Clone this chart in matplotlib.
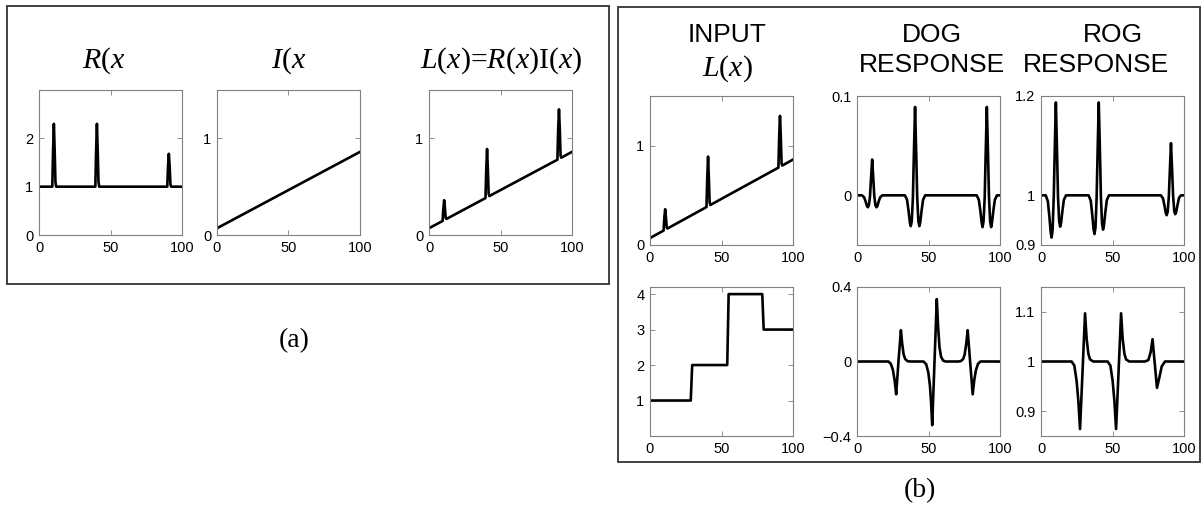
"""
Retinex-style illustration: reflectance x illumination, and the DOG / ROG
responses of two test inputs.  Two boxed panels, (a) and (b).
"""

import matplotlib
matplotlib.use("Agg")
import matplotlib.pyplot as plt
from matplotlib.patches import Rectangle

# ---------------------------------------------------------------------------
# Data
# ---------------------------------------------------------------------------

# (a) reflectance R(x): flat at 1 with three narrow spikes
r_x = [0, 9.3, 9.8, 10.4, 11.0, 11.5, 12.0, 39.4, 39.9, 40.5, 41.1, 41.6, 42.1,
       89.7, 90.2, 90.8, 91.4, 91.9, 92.4, 100]
r_y = [1, 1, 1.7, 2.3, 1.7, 1.1, 1, 1, 1.7, 2.3, 1.7, 1.1, 1,
       1, 1.4, 1.68, 1.4, 1.05, 1, 1]

# (a) illumination I(x): a ramp
i_x = [0, 100]
i_y = [0.07, 0.86]

# L(x) = R(x) I(x)  (also the first input in panel b)
l_x = [0, 9.5, 10.0, 10.6, 11.2, 11.7, 12.2, 39.5, 40.0, 40.6, 41.2, 41.7, 42.2,
       89.8, 90.3, 90.9, 91.5, 92.0, 92.5, 100]
l_y = [0.07, 0.145, 0.27, 0.36, 0.27, 0.175, 0.166, 0.382, 0.66, 0.89, 0.66, 0.43, 0.403,
       0.779, 1.08, 1.30, 1.08, 0.82, 0.800, 0.86]

# (b) DOG response to L(x)
dog1_x = [0,
          3.5, 5.0, 6.0, 7.0, 7.6, 8.3, 9.1, 9.8, 10.6, 11.4, 12.1, 12.9, 13.6, 14.2, 15.2, 16.2, 17.7,
          33.5, 35.0, 36.0, 37.0, 37.6, 38.3, 39.1, 39.8, 40.6, 41.4, 42.1, 42.9, 43.6, 44.2, 45.2, 46.2, 47.7,
          83.7, 85.2, 86.2, 87.2, 87.8, 88.5, 89.3, 90.0, 90.8, 91.6, 92.3, 93.1, 93.8, 94.4, 95.4, 96.4, 97.9,
          100]
dog1_y = [0,
          0, -0.002, -0.006, -0.011, -0.012, -0.010, -0.001, 0.017, 0.036, 0.017, -0.001, -0.010, -0.012,
          -0.011, -0.006, -0.002, 0,
          0, -0.0045, -0.015, -0.0275, -0.031, -0.026, -0.002, 0.043, 0.089, 0.043, -0.002, -0.026, -0.031,
          -0.0275, -0.015, -0.0045, 0,
          0, -0.0045, -0.015, -0.0275, -0.032, -0.026, -0.002, 0.043, 0.089, 0.043, -0.002, -0.026, -0.032,
          -0.0275, -0.015, -0.0045, 0,
          0]

# (b) ROG response to L(x)
rog1_x = [0,
          3.3, 4.8, 5.8, 6.8, 7.4, 8.1, 8.9, 9.6, 10.4, 11.2, 11.9, 12.7, 13.4, 14.0, 15.0, 16.0, 17.5,
          33.3, 34.8, 35.8, 36.8, 37.4, 38.1, 38.9, 39.6, 40.4, 41.2, 41.9, 42.7, 43.4, 44.0, 45.0, 46.0, 47.5,
          83.8, 85.3, 86.3, 87.3, 87.9, 88.6, 89.4, 90.1, 90.9, 91.7, 92.4, 93.2, 93.9, 94.5, 95.5, 96.5, 98.0,
          100]
rog1_y = [1,
          1, 0.988, 0.959, 0.925, 0.915, 0.930, 0.995, 1.09, 1.187, 1.09, 0.996, 0.948, 0.937,
          0.944, 0.969, 0.991, 1,
          1, 0.989, 0.962, 0.931, 0.922, 0.935, 0.995, 1.09, 1.187, 1.09, 0.996, 0.943, 0.931,
          0.939, 0.966, 0.990, 1,
          1, 0.994, 0.980, 0.964, 0.960, 0.967, 0.998, 1.05, 1.105, 1.05, 0.998, 0.968, 0.962,
          0.966, 0.981, 0.995, 1,
          1]

# (b) second input: a staircase
step_x = [0, 28.5, 29.5, 54.0, 55.0, 78.5, 79.5, 100]
step_y = [1, 1, 2, 2, 4, 4, 3, 3]

# (b) DOG response to the staircase
dog2_x = [0, 22.0, 23.7, 25.1, 26.3, 27.4, 29.0, 30.7, 31.6, 32.6, 33.7, 35.3, 37.0,
          46.5, 48.4, 49.9, 51.0, 51.8, 52.6, 54.2, 55.8, 56.7, 57.7, 58.8, 60.2, 62.0,
          71.0, 72.6, 74.2, 75.3, 76.4, 77.4, 79.1, 80.9, 82.0, 83.2, 84.6, 86.3, 100]
dog2_y = [0, 0, -0.013, -0.045, -0.10, -0.176, 0.0, 0.168, 0.096, 0.038, 0.013, 0.002, 0,
          0, -0.015, -0.06, -0.13, -0.22, -0.342, 0.0, 0.335, 0.19, 0.075, 0.025, 0.005, 0,
          0, 0.002, 0.013, 0.038, 0.096, 0.168, 0.0, -0.176, -0.10, -0.045, -0.013, 0, 0]

# (b) ROG response to the staircase
rog2_x = [0, 21.4, 23.3, 24.9, 26.1, 27.3, 29.05, 30.8, 31.9, 33.1, 34.3, 36.6,
          46.6, 48.5, 50.1, 51.3, 52.5, 54.25, 56.0, 57.1, 58.3, 59.5, 61.8,
          72.7, 75.1, 76.7, 78.0, 79.55, 81.1, 82.8, 84.4, 86.7, 100]
rog2_y = [1, 1, 0.992, 0.961, 0.921, 0.864, 0.98, 1.097, 1.046, 1.016, 1.004, 1,
          1, 0.992, 0.961, 0.921, 0.864, 0.98, 1.097, 1.046, 1.016, 1.004, 1,
          1, 1.003, 1.019, 1.045, 0.996, 0.947, 0.968, 0.990, 1, 1]

X_TICKS = [0, 50, 100]

# ---------------------------------------------------------------------------
# Figure setup (pixel layout of a 1201 x 511 image)
# ---------------------------------------------------------------------------
W, H = 1201, 511
plt.rcParams["mathtext.fontset"] = "custom"
plt.rcParams["mathtext.rm"] = "Liberation Serif"
plt.rcParams["mathtext.it"] = "Liberation Serif:italic"

fig = plt.figure(figsize=(W / 100, H / 100), dpi=100)

SANS = "Liberation Sans"
SERIF = "Liberation Serif"
SPINE = "#808080"


def fx(px):
    return px / W


def fy(py):
    return 1 - py / H


def add_panel(left, top, right, bottom, x, y, ylim, yticks, yticklabels=None):
    ax = fig.add_axes([fx(left), fy(bottom), (right - left) / W, (bottom - top) / H])
    ax.plot(x, y, color="black", linewidth=1.9, solid_joinstyle="round")
    ax.set_xlim(0, 100)
    ax.set_ylim(*ylim)
    ax.set_xticks(X_TICKS)
    ax.set_yticks(yticks)
    if yticklabels is not None:
        ax.set_yticklabels(yticklabels)
    for s in ax.spines.values():
        s.set_color(SPINE)
        s.set_linewidth(0.8)
    ax.tick_params(direction="in", length=3.5, width=0.6, color=SPINE,
                   top=True, right=True, labelsize=10.5, pad=4, labelcolor="black")
    for lab in ax.get_xticklabels() + ax.get_yticklabels():
        lab.set_fontfamily(SANS)
    return ax


def label(px, py, s, family, size, ha="center"):
    fig.text(fx(px), fy(py), s, family=family, fontsize=size, ha=ha, va="baseline")


# ---------------------------------------------------------------------------
# Panel (a)
# ---------------------------------------------------------------------------
fig.add_artist(Rectangle((fx(7), fy(284)), (609 - 7) / W, (284 - 6) / H,
                         transform=fig.transFigure, fill=False,
                         edgecolor="#333333", linewidth=1.3))

add_panel(39, 90, 182, 235, r_x, r_y, (0, 3), [0, 1, 2])
add_panel(217, 90, 360, 235, i_x, i_y, (0, 1.5), [0, 1])
add_panel(429, 90, 572, 235, l_x, l_y, (0, 1.5), [0, 1])

label(104, 68, "$R$($x$", SERIF, 21.5)
label(289, 68, "$I$($x$", SERIF, 21.5)
label(501, 68, "$L$($x$)=$R$($x$)I($x$)", SERIF, 21.5)
label(294, 347, "(a)", SERIF, 20)

# ---------------------------------------------------------------------------
# Panel (b)
# ---------------------------------------------------------------------------
fig.add_artist(Rectangle((fx(618), fy(462)), (1200 - 618) / W, (462 - 7) / H,
                         transform=fig.transFigure, fill=False,
                         edgecolor="#333333", linewidth=1.3))

add_panel(650, 96, 793, 245, l_x, l_y, (0, 1.5), [0, 1])
add_panel(857, 96, 1000, 245, dog1_x, dog1_y, (-0.05, 0.1), [0, 0.1], ["0", "0.1"])
add_panel(1041, 96, 1184, 245, rog1_x, rog1_y, (0.9, 1.2), [0.9, 1, 1.2], ["0.9", "1", "1.2"])

add_panel(650, 287, 793, 436, step_x, step_y, (0, 4.2), [1, 2, 3, 4])
add_panel(857, 287, 1000, 436, dog2_x, dog2_y, (-0.4, 0.4), [-0.4, 0, 0.4], ["\u22120.4", "0", "0.4"])
add_panel(1041, 287, 1184, 436, rog2_x, rog2_y, (0.85, 1.15), [0.9, 1, 1.1], ["0.9", "1", "1.1"])

label(727, 42, "INPUT", SANS, 19)
label(727, 76, "$L$($x$)", SERIF, 21.5)
label(932, 42, "DOG", SANS, 19)
label(932, 72, "RESPONSE", SANS, 19)
label(1113, 42, "ROG", SANS, 19)
label(1096, 72, "RESPONSE", SANS, 19)
label(920, 497, "(b)", SERIF, 20)

fig.savefig("out.png", dpi=100)
